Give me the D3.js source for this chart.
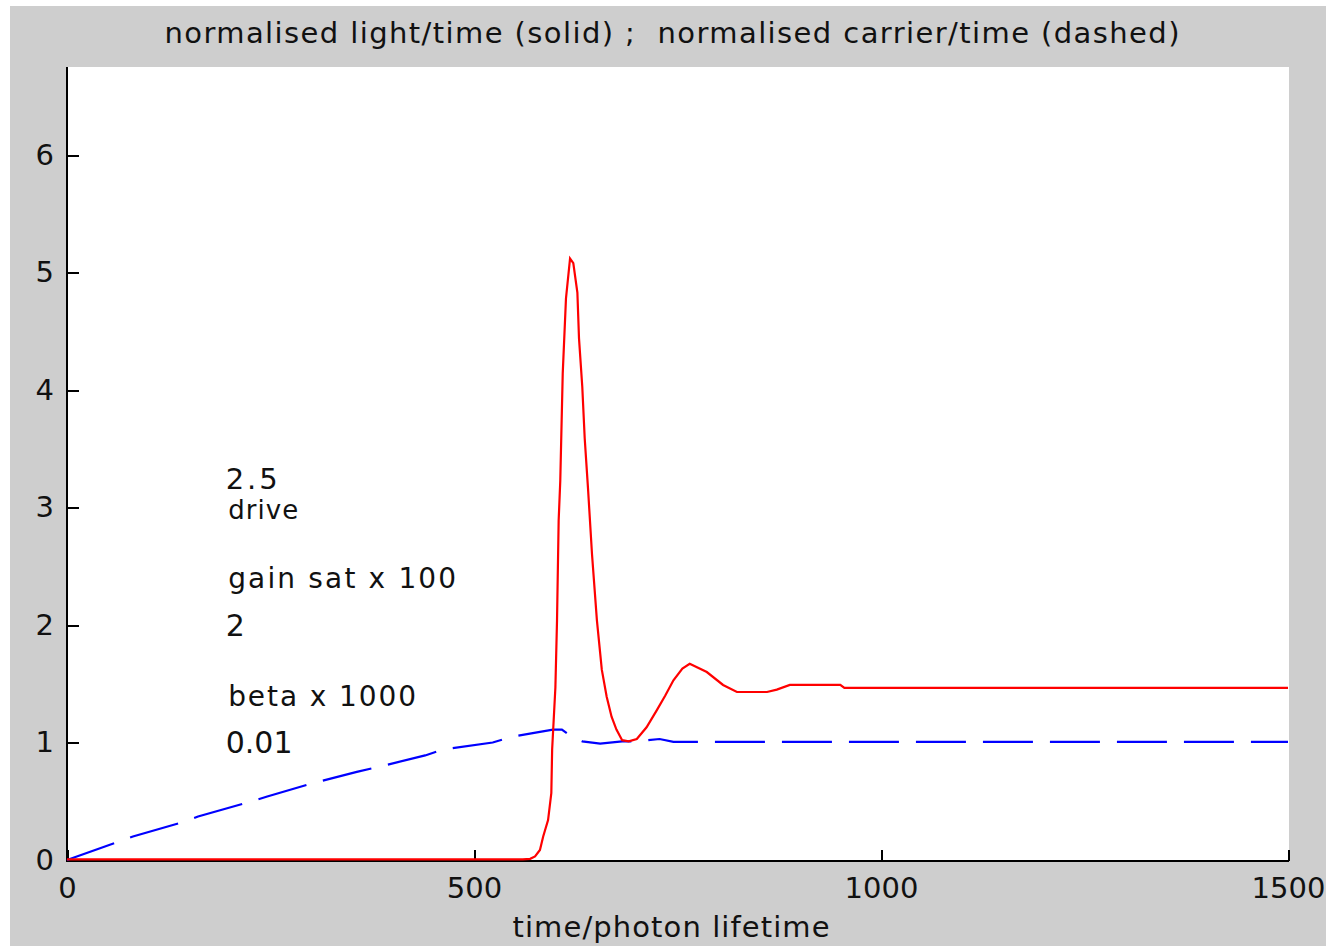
<!DOCTYPE html>
<html lang="en">
<head>
<meta charset="UTF-8">
<title>normalised light / carrier</title>
<script src="https://d3js.org/d3.v7.min.js"></script>
<style>
    body { margin: 0; background: #fff; }
    svg { display: block; }
    text { font-family: "DejaVu Sans", Verdana, sans-serif; fill: #111; }
    .axis path, .axis line { stroke: #000; stroke-width: 2px; fill: none; shape-rendering: crispEdges; }
    .axis text { font-size: 29px; }
    .line { fill: none; stroke-width: 2.2px; }
</style>
</head>
<body>
<div id="chart"></div>
<script>
// normalised light (solid red)
const lightT = [0, 300, 560, 569, 575, 581, 585, 591, 595, 596, 600, 602, 604, 606, 609, 613, 618,
    622, 627, 629, 633, 636, 640, 645, 651, 655, 657, 663, 669, 675, 682, 690, 700, 712, 725, 735,
    745, 756, 765, 786, 806, 823, 860, 872, 888, 950, 955, 1500];
const lightV = [0.005, 0.005, 0.005, 0.01, 0.03, 0.085, 0.2, 0.34, 0.57, 0.94, 1.47, 2.04, 2.89, 3.23, 4.14, 4.78, 5.12,
    5.08, 4.83, 4.44, 4.03, 3.59, 3.17, 2.6, 2.04, 1.76, 1.62, 1.39, 1.22, 1.11, 1.02, 1.01, 1.03, 1.13, 1.28, 1.40,
    1.53, 1.63, 1.67, 1.60, 1.49, 1.43, 1.43, 1.45, 1.49, 1.49, 1.465, 1.465];

// normalised carrier (dashed blue)
const carrierT = [0, 57, 81, 141, 161, 222, 246, 300, 356, 381, 440, 462, 523, 547, 581, 597, 608,
    618, 633, 655, 682, 700, 728, 745, 1500];
const carrierV = [0, 0.14, 0.2, 0.32, 0.37, 0.49, 0.54, 0.65, 0.75, 0.79, 0.89, 0.94, 1.0, 1.05, 1.09, 1.11, 1.11,
    1.06, 1.01, 0.99, 1.01, 1.01, 1.03, 1.005, 1.005];

const xTicks = [0, 500, 1000, 1500];
const yTicks = [0, 1, 2, 3, 4, 5, 6];

// parameter notes placed in data coordinates
const notes = [
    { t: 195, v: 3.25, text: "2.5", size: 29, len: 52 },
    { t: 198, v: 2.98, text: "drive", size: 26, len: 70 },
    { t: 198, v: 2.40, text: "gain sat x 100", size: 28, len: 228 },
    { t: 195, v: 2.00, text: "2", size: 30, len: 0 },
    { t: 198, v: 1.40, text: "beta x 1000", size: 28, len: 188 },
    { t: 195, v: 1.00, text: "0.01", size: 30, len: 0 }
];

const W = 1326, H = 946;
const plot = { left: 67, top: 67, right: 1289, bottom: 861 };

const x = d3.scaleLinear().domain([0, 1500]).range([plot.left, 1288]);
const y = d3.scaleLinear().domain([0, 6.75]).range([plot.bottom - 1, plot.top]);

const svg = d3.select("#chart").append("svg")
    .attr("width", W)
    .attr("height", H);

svg.append("rect").attr("width", W).attr("height", H).attr("fill", "#fff");
svg.append("rect").attr("x", 10).attr("y", 6).attr("width", W - 10).attr("height", H - 6).attr("fill", "#cecece");
svg.append("rect")
    .attr("x", plot.left).attr("y", plot.top)
    .attr("width", plot.right - plot.left).attr("height", plot.bottom - plot.top)
    .attr("fill", "#fff");

// axes, ticks pointing inward like the original
svg.append("g")
    .attr("class", "axis")
    .attr("transform", `translate(0,${plot.bottom})`)
    .call(d3.axisBottom(x).tickValues(xTicks).tickSizeInner(-11).tickSizeOuter(0).tickPadding(16).tickFormat(d3.format("d")));

svg.append("g")
    .attr("class", "axis")
    .attr("transform", `translate(${plot.left},0)`)
    .call(d3.axisLeft(y).tickValues(yTicks).tickSizeInner(-12).tickSizeOuter(0).tickPadding(13).tickFormat(d3.format("d")));

svg.selectAll(".axis .domain").remove();
svg.append("line")
    .attr("x1", plot.left).attr("x2", plot.left).attr("y1", plot.top).attr("y2", plot.bottom + 1)
    .attr("stroke", "#000").attr("stroke-width", 2);
svg.append("line")
    .attr("x1", plot.left).attr("x2", plot.right).attr("y1", plot.bottom).attr("y2", plot.bottom)
    .attr("stroke", "#000").attr("stroke-width", 2);

const line = d3.line().x(d => x(d[0])).y(d => y(d[1]));

svg.append("path")
    .datum(d3.zip(carrierT, carrierV))
    .attr("class", "line")
    .attr("stroke", "#0000ff")
    .attr("stroke-dasharray", "50,17")
    .attr("d", line);

svg.append("path")
    .datum(d3.zip(lightT, lightV))
    .attr("class", "line")
    .attr("stroke", "#ff0000")
    .attr("d", line);

// notes
notes.forEach(n => {
    const t = svg.append("text")
        .attr("x", x(n.t))
        .attr("y", y(n.v))
        .attr("dy", "0.36em")
        .style("font-size", n.size + "px")
        .text(n.text);
    if (n.len) t.attr("textLength", n.len).attr("lengthAdjust", "spacing");
});

// title and x label
svg.append("text")
    .attr("x", 672).attr("y", 43)
    .attr("text-anchor", "middle")
    .attr("textLength", 1015).attr("lengthAdjust", "spacing")
    .style("font-size", "29px")
    .style("white-space", "pre")
    .text("normalised light/time (solid) ;  normalised carrier/time (dashed)");

svg.append("text")
    .attr("x", 671).attr("y", 937)
    .attr("text-anchor", "middle")
    .attr("textLength", 317).attr("lengthAdjust", "spacing")
    .style("font-size", "29px")
    .text("time/photon lifetime");
</script>
</body>
</html>
